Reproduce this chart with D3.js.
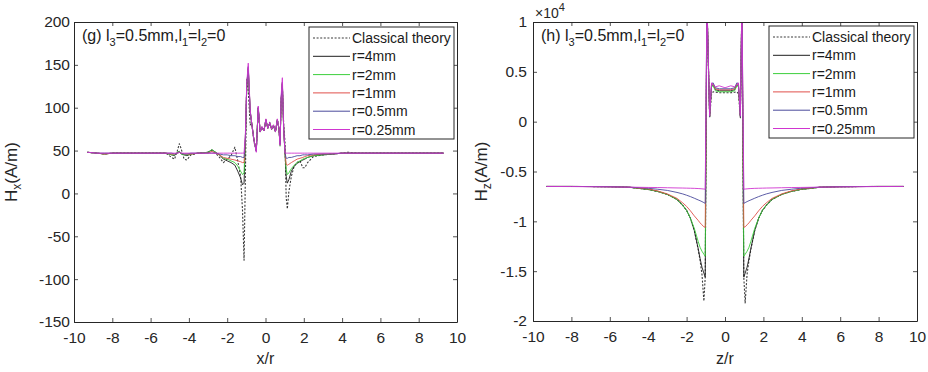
<!DOCTYPE html>
<html><head><meta charset="utf-8">
<script src="https://cdn.jsdelivr.net/npm/d3@7"></script>
<style>body{margin:0;background:#fff}svg{display:block;font-family:"Liberation Sans",Arial,sans-serif}</style>
</head><body><svg id="c" width="928" height="372"></svg>
<script>
// ---------- DATA ----------
const seriesNames = ["Classical theory","r=4mm","r=2mm","r=1mm","r=0.5mm","r=0.25mm"];
const xTicks = [-10,-8,-6,-4,-2,0,2,4,6,8,10];
const hxTicks = [-150,-100,-50,0,50,100,150,200];
const hzTicks = [-20000,-15000,-10000,-5000,0,5000,10000];

// Panel (g): Hx vs x/r
const hxX = [-9.3,-8.8,-8.4,-8.0,-7.0,-6.0,-5.2,-4.9,-4.75,-4.6,
  -4.5,-4.4,-4.25,-4.1,-3.9,-3.5,-3.0,-2.8,-2.6,-2.4,
  -2.2,-2.0,-1.8,-1.6,-1.45,-1.3,-1.2,-1.12,-1.05,-0.98,
  -0.9,-0.8,-0.72,-0.6,-0.48,-0.38,-0.28,-0.18,-0.08,0.02,
  0.12,0.22,0.32,0.42,0.52,0.62,0.7,0.76,0.82,0.88,
  0.95,1.02,1.08,1.14,1.22,1.35,1.5,1.65,1.8,1.95,
  2.05,2.2,2.5,3.0,3.5,4.0,4.3,5.0,6.0,7.0,8.0,9.3];
const hxClassical = [48,47,46,47,47,47,47,42,40,50,
  58,52,40,39,45,47,48,50,47,42,
  36,40,44,54,38,20,-20,-78,20,133,
  120,80,82,60,50,98,72,78,73,85,
  77,83,75,80,72,86,74,60,110,125,
  80,60,-5,-18,2,20,32,36,38,30,
  30,36,43,45,46,47,48,47,47,47,47,47];
const hxR4 = [48,47,46,47,47,47,47,45,44,48,
  49,46,45,44,46,47,48,51,48,45,
  40,38,36,33,26,18,10,12,60,125,
  145,95,82,62,50,100,72,77,73,86,
  76,82,75,79,72,86,76,58,110,128,
  75,47,20,12,16,26,32,35,37,39,
  40,42,44,45,46,47,47,47,47,47,47,47];
const hxR2 = [48,47,46,47,47,47,47,45,45,48,
  49,46,45,45,46,47,48,51,48,45,
  41,40,38,36,32,26,22,24,65,125,
  146,96,82,62,50,100,72,77,73,86,
  76,82,75,79,72,86,76,55,110,128,
  75,47,28,22,24,29,33,36,38,40,
  41,42,44,45,46,47,47,47,47,47,47,47];
const hxR1 = [48,47,46,47,47,47,47,46,46,47,
  48,47,46,46,46,47,47,49,47,45,
  42,41,40,39,38,37,36,36,65,125,
  147,96,82,62,50,100,72,77,73,86,
  76,82,75,79,72,86,76,57,110,129,
  75,47,34,33,34,36,38,40,41,42,
  43,44,45,46,46,47,47,47,47,47,47,47];
const hxR05 = [48,47,47,47,47,47,47,47,46,47,
  48,47,46,46,47,47,47,47,47,46,
  45,45,44,44,43,43,42,42,65,125,
  148,96,82,62,49,100,72,77,73,86,
  76,82,75,79,72,86,76,57,112,130,
  75,47,41,41,42,42,43,44,44,45,
  45,45,46,46,46,47,47,47,47,47,47,47];
const hxR025 = [48,47,47,47,47,47,47,47,47,47,
  48,47,47,47,47,47,47,47,47,47,
  47,47,47,47,47,47,47,47,70,128,
  152,98,82,62,48,102,72,78,73,87,
  76,83,75,80,72,87,76,56,115,135,
  75,47,47,47,47,47,47,47,47,47,
  47,47,47,47,47,47,47,47,47,47,47,47];

// Panel (h): Hz vs z/r
const hzX = [-9.3,-8,-7,-6,-5,-4,-3.5,-3,-2.5,-2.2,-2,-1.8,-1.6,-1.4,-1.3,-1.2,-1.1,-1.03,
  -0.94,-0.8,-0.7,-0.62,-0.5,-0.3,0,0.3,0.5,0.62,0.7,0.8,0.88,
  0.98,1.05,1.15,1.25,1.35,1.55,1.75,1.95,2.15,2.45,2.95,3.45,3.95,4.95,5.95,6.95,7.95,9.3];
const hzClassical = [-6500,-6500,-6510,-6530,-6580,-6800,-7000,-7300,-7800,-8400,-8900,-9700,-10900,-12800,-13900,-15300,-18000,-15600,
  12000,400,2800,3000,2950,2900,2900,2900,2950,3000,2800,400,12000,
  -15600,-18200,-15300,-13900,-12800,-10900,-9700,-8900,-8400,-7800,-7300,-7000,-6800,-6580,-6530,-6510,-6500,-6500];
const hzR4 = [-6500,-6500,-6510,-6530,-6580,-6800,-7000,-7300,-7800,-8400,-8900,-9700,-10900,-12700,-13700,-14600,-15200,-15600,
  12000,600,3600,3700,3200,3100,3100,3100,3200,3700,3600,600,12000,
  -15600,-15200,-14600,-13700,-12700,-10900,-9700,-8900,-8400,-7800,-7300,-7000,-6800,-6580,-6530,-6510,-6500,-6500];
const hzR2 = [-6500,-6500,-6510,-6530,-6580,-6800,-7000,-7300,-7800,-8400,-8900,-9700,-10700,-12000,-12600,-13000,-13300,-13500,
  12000,500,3500,3600,3100,3000,3000,3000,3100,3600,3500,500,12000,
  -13500,-13300,-13000,-12600,-12000,-10700,-9700,-8900,-8400,-7800,-7300,-7000,-6800,-6580,-6530,-6510,-6500,-6500];
const hzR1 = [-6500,-6500,-6510,-6530,-6570,-6750,-6950,-7250,-7700,-8150,-8500,-8950,-9450,-9900,-10150,-10350,-10550,-10600,
  12000,500,3700,3800,3300,3200,3200,3200,3300,3800,3700,500,12000,
  -10600,-10550,-10350,-10150,-9900,-9450,-8950,-8500,-8150,-7700,-7250,-6950,-6750,-6570,-6530,-6510,-6500,-6500];
const hzR05 = [-6500,-6500,-6510,-6530,-6570,-6680,-6780,-6900,-7100,-7250,-7380,-7520,-7680,-7850,-7930,-8020,-8120,-8200,
  12000,500,3800,3900,3400,3300,3300,3300,3400,3900,3800,500,12000,
  -8200,-8120,-8020,-7930,-7850,-7680,-7520,-7380,-7250,-7100,-6900,-6780,-6680,-6570,-6530,-6510,-6500,-6500];
const hzR025 = [-6500,-6510,-6530,-6550,-6570,-6600,-6610,-6630,-6650,-6660,-6670,-6680,-6690,-6710,-6720,-6740,-6760,-6780,
  12000,600,3900,3700,3500,3600,3400,3600,3500,3700,3900,600,12000,
  -6780,-6760,-6740,-6720,-6710,-6690,-6680,-6670,-6660,-6650,-6630,-6610,-6600,-6570,-6550,-6530,-6510,-6500];

// ---------- STYLE ----------
const colors = ["#3a3a3a","#1e1e1e","#3ccf3c","#e0504a","#4a4a9c","#d035d0"];
const dashes = ["2,1.6",null,null,null,null,null];
const axisColor = "#262626";

const svg = d3.select("#c");

function panel(o){
  const x = d3.scaleLinear().domain([-10,10]).range([o.x0,o.x1]);
  const y = d3.scaleLinear().domain(o.yDomain).range([o.y1,o.y0]);
  const g = svg.append("g");
  const cid = "clip"+o.id;
  svg.append("defs").append("clipPath").attr("id",cid).append("rect")
    .attr("x",o.x0).attr("y",o.y0).attr("width",o.x1-o.x0).attr("height",o.y1-o.y0);

  const line = d3.line().x((d,i)=>x(o.xs[i])).y(d=>y(d));
  const lg = g.append("g").attr("clip-path",`url(#${cid})`);
  o.series.forEach((s,k)=>{
    lg.append("path").attr("d",line(s)).attr("fill","none")
      .attr("stroke",colors[k]).attr("stroke-width",k===0?1.1:0.9)
      .attr("stroke-dasharray",dashes[k]).attr("stroke-linejoin","round");
  });

  const fmt = o.fmt;
  const axB = d3.axisBottom(x).tickValues(xTicks).tickSizeInner(-4).tickSizeOuter(0).tickPadding(10);
  const axT = d3.axisTop(x).tickValues(xTicks).tickSizeInner(-4).tickSizeOuter(0).tickFormat("");
  const axL = d3.axisLeft(y).tickValues(o.yTicks).tickSizeInner(-4).tickSizeOuter(0).tickPadding(o.yPad).tickFormat(fmt);
  const axR = d3.axisRight(y).tickValues(o.yTicks).tickSizeInner(-4).tickSizeOuter(0).tickFormat("");
  const gb = g.append("g").attr("transform",`translate(0,${o.y1})`).call(axB);
  const gt = g.append("g").attr("transform",`translate(0,${o.y0})`).call(axT);
  const gl = g.append("g").attr("transform",`translate(${o.x0},0)`).call(axL);
  const gr = g.append("g").attr("transform",`translate(${o.x1},0)`).call(axR);
  [gb,gt,gl,gr].forEach(a=>{
    a.selectAll("path").attr("stroke",axisColor).attr("stroke-width",1);
    a.selectAll("line").attr("stroke",axisColor).attr("stroke-width",0.8);
    a.selectAll("text").attr("fill",axisColor).attr("font-size",15.5)
      .attr("font-family","Liberation Sans, Arial, sans-serif");
  });
  gb.selectAll("text").text(d=>d<0?"-"+Math.abs(d):d);

  g.append("text").attr("x",(o.x0+o.x1)/2).attr("y",364).attr("text-anchor","middle")
    .attr("font-size",16).attr("fill",axisColor).text(o.xLabel);
  const yl = g.append("text").attr("transform",`translate(${o.yLabelX},${(o.y0+o.y1)/2}) rotate(-90)`)
    .attr("text-anchor","middle").attr("font-size",17).attr("fill",axisColor);
  yl.append("tspan").text("H");
  yl.append("tspan").attr("dy",4).attr("font-size",12).text(o.ySub);
  yl.append("tspan").attr("dy",-4).text("(A/m)");

  const an = g.append("text").attr("x",o.x0+8).attr("y",o.y0+19).attr("font-size",16).attr("fill","#1a1a1a");
  an.append("tspan").text(o.tag+" l");
  an.append("tspan").attr("dy",5).attr("font-size",11).text("3");
  an.append("tspan").attr("dy",-5).text("=0.5mm,l");
  an.append("tspan").attr("dy",5).attr("font-size",11).text("1");
  an.append("tspan").attr("dy",-5).text("=l");
  an.append("tspan").attr("dy",5).attr("font-size",11).text("2");
  an.append("tspan").attr("dy",-5).text("=0");

  const L = o.legend;
  g.append("rect").attr("x",L.x).attr("y",L.y).attr("width",L.w).attr("height",L.h)
    .attr("fill","#fff").attr("stroke",axisColor).attr("stroke-width",1);
  seriesNames.forEach((n,k)=>{
    const yy = L.y+11+k*18.3;
    g.append("line").attr("x1",L.x+4).attr("x2",L.x+41).attr("y1",yy).attr("y2",yy)
      .attr("stroke",colors[k]).attr("stroke-width",k===0?1.1:1).attr("stroke-dasharray",dashes[k]);
    g.append("text").attr("x",L.x+43).attr("y",yy+5).attr("font-size",14).attr("fill","#1a1a1a").text(n);
  });
  return {x,y,g};
}

panel({id:"g", x0:74, x1:457, y0:22, y1:322, yDomain:[-150,200], yTicks:hxTicks, yPad:4,
  xs:hxX, series:[hxClassical,hxR4,hxR2,hxR1,hxR05,hxR025],
  fmt:d=>d<0?"-"+Math.abs(d):d, xLabel:"x/r", ySub:"x", yLabelX:17, tag:"(g)",
  legend:{x:309,y:27,w:145,h:112}});

panel({id:"h", x0:533, x1:917, y0:22, y1:321, yDomain:[-20000,10000], yTicks:hzTicks, yPad:6,
  xs:hzX, series:[hzClassical,hzR4,hzR2,hzR1,hzR05,hzR025],
  fmt:d=>{const v=d/10000; return v<0?"-"+Math.abs(v):String(v);}, xLabel:"z/r", ySub:"z", yLabelX:487, tag:"(h)",
  legend:{x:769,y:26,w:145,h:112}});

const ex = svg.append("text").attr("x",535).attr("y",18).attr("font-size",14).attr("fill",axisColor);
ex.append("tspan").text("×10");
ex.append("tspan").attr("dy",-7).attr("font-size",11).text("4");
</script></body></html>
